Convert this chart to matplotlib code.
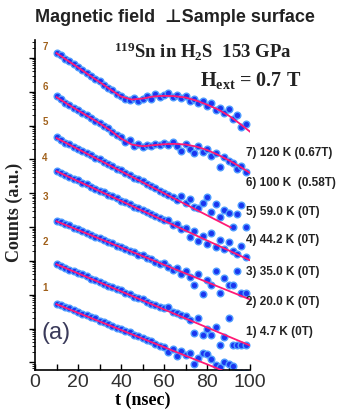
import numpy as np
import matplotlib
matplotlib.use('Agg')
import matplotlib.pyplot as plt
from matplotlib.ticker import LogLocator, NullFormatter, MultipleLocator

plt.rcParams['mathtext.fontset'] = 'custom'
plt.rcParams['mathtext.rm'] = 'Liberation Serif:bold'
plt.rcParams['mathtext.default'] = 'rm'

# time channels (nsec)
t_points = [10, 12, 14, 16, 18, 20, 22, 24, 26, 28, 30, 32, 34, 36, 38,
            40, 42, 44, 46, 48, 50, 52, 54, 56, 58, 60, 62, 64, 66, 68,
            70, 72, 74, 76, 78, 80, 82, 84, 86, 88, 90, 92, 94, 96, 98]

# log10(counts) incl. vertical offsets
s1 = [1.74, 1.70, 1.63, 1.60, 1.55, 1.50, 1.44, 1.41, 1.33, 1.30, 1.23, 1.18, 1.14, 1.08, 1.02,
      0.99, 0.93, 0.90, 0.80, 0.78, 0.72, 0.66, 0.64, 0.55, 0.48, 0.46, 0.30, 0.40, 0.18, 0.35,
      0.22, 0.28, -0.05, 0.12, 0.28, 0.26, 0.10, -0.08, -0.15, 0.00, -0.05, -0.10, -0.3, -0.3, -0.3]
s2 = [2.92, 2.86, 2.80, 2.74, 2.70, 2.64, 2.60, 2.54, 2.47, 2.43, 2.38, 2.33, 2.27, 2.22, 2.17,
      2.13, 2.06, 2.02, 1.94, 1.90, 1.86, 1.78, 1.74, 1.70, 1.64, 1.60, 1.63, 1.50, 1.45, 1.40,
      1.38, 1.25, 0.86, 1.32, 0.80, 1.00, 0.80, 1.04, 0.50, 0.75, 1.30, 0.50, 0.50, 0.50, 0.52]
s3 = [4.19, 4.14, 4.09, 4.05, 3.97, 3.93, 3.87, 3.82, 3.77, 3.70, 3.68, 3.61, 3.55, 3.52, 3.44,
      3.42, 3.35, 3.30, 3.26, 3.18, 3.16, 3.08, 3.05, 2.98, 2.92, 2.95, 2.82, 2.72, 2.78, 2.60,
      2.70, 2.52, 2.30, 2.62, 2.02, 2.45, 2.30, 2.70, 2.05, 2.50, 2.30, 2.30, 2.70, 2.05, 2.05]
s4 = [5.66, 5.60, 5.55, 5.48, 5.43, 5.38, 5.30, 5.26, 5.18, 5.14, 5.08, 5.03, 4.95, 4.92, 4.85,
      4.78, 4.74, 4.68, 4.60, 4.57, 4.50, 4.44, 4.40, 4.32, 4.28, 4.20, 4.22, 4.05, 4.10, 3.95,
      3.98, 3.70, 3.88, 3.60, 3.75, 3.50, 3.82, 3.40, 3.62, 3.35, 3.55, 3.30, 3.20, 3.45, 3.12]
s5 = [6.65, 6.58, 6.50, 6.45, 6.38, 6.32, 6.24, 6.18, 6.12, 6.05, 6.00, 5.92, 5.85, 5.80, 5.72,
      5.68, 5.60, 5.55, 5.45, 5.42, 5.35, 5.28, 5.20, 5.15, 5.08, 5.00, 4.95, 4.88, 4.80, 4.92,
      4.70, 4.82, 4.60, 4.55, 4.70, 4.90, 4.45, 4.68, 4.30, 4.50, 4.42, 4.00, 4.40, 4.65, 4.00]
s6 = [7.86, 7.78, 7.68, 7.61, 7.52, 7.47, 7.38, 7.31, 7.22, 7.15, 7.08, 7.00, 6.92, 6.82, 6.72,
      6.66, 6.52, 6.58, 6.40, 6.45, 6.36, 6.44, 6.40, 6.47, 6.42, 6.48, 6.43, 6.52, 6.40, 6.25,
      6.45, 6.32, 6.18, 6.40, 6.22, 6.30, 6.10, 6.20, 5.78, 6.08, 5.95, 5.90, 5.72, 5.80, 5.62]
s7 = [9.16, 9.08, 8.98, 8.90, 8.82, 8.74, 8.64, 8.56, 8.46, 8.38, 8.32, 8.20, 8.12, 8.04, 7.92,
      7.88, 7.80, 7.76, 7.82, 7.74, 7.80, 7.88, 7.78, 7.92, 7.84, 7.90, 7.96, 7.84, 7.90, 7.82,
      7.88, 7.72, 7.80, 7.68, 7.74, 7.58, 7.66, 7.46, 7.52, 7.36, 7.50, 7.18, 7.30, 6.95, 7.05]
spectra = [s1, s2, s3, s4, s5, s6, s7]

# fitted curves (log10 counts)
fit1_t, fit1_y = [10, 92], [1.72, -0.36]
fit2_t, fit2_y = [10, 100], [2.90, 0.50]
fit3_t, fit3_y = [10, 100], [4.17, 1.86]
fit4_t, fit4_y = [10, 100], [5.65, 3.02]
fit5_t, fit5_y = [10, 91], [6.63, 3.99]
fit6_t = [10, 15, 20, 25, 30, 35, 40, 45, 50, 55, 60, 65, 70, 75, 80, 85, 90, 95, 100]
fit6_y = [7.84, 7.64, 7.45, 7.26, 7.07, 6.86, 6.62, 6.44, 6.39, 6.42, 6.45, 6.46, 6.44, 6.38,
          6.28, 6.14, 5.98, 5.80, 5.60]
fit7_t = [10, 15, 20, 25, 30, 35, 40, 45, 50, 55, 60, 65, 70, 75, 80, 85, 90, 95, 100]
fit7_y = [9.14, 8.93, 8.72, 8.50, 8.29, 8.07, 7.86, 7.77, 7.80, 7.86, 7.88, 7.87, 7.83, 7.74,
          7.62, 7.48, 7.30, 7.07, 6.82]
fits = [(fit1_t, fit1_y), (fit2_t, fit2_y), (fit3_t, fit3_y), (fit4_t, fit4_y),
        (fit5_t, fit5_y), (fit6_t, fit6_y), (fit7_t, fit7_y)]

labels = ['1) 4.7 K (0T)', '2) 20.0 K (0T)', '3) 35.0 K (0T)', '4) 44.2 K (0T)',
          '5) 59.0 K (0T)', '6) 100 K  (0.58T)', '7) 120 K (0.67T)']
numbers = ['1', '2', '3', '4', '5', '6', '7']

W, H = 341, 419


def px(x, y):
    return x / W, 1 - y / H


fig = plt.figure(figsize=(W / 100, H / 100), dpi=100)
ax = fig.add_axes([35 / W, 1 - 369.5 / H, 215 / W, 329.5 / H])

for vals in spectra:
    ax.plot(t_points, 10 ** np.array(vals), 'o', ms=4.8, mfc='#1a36f0', mec='#4f9dff',
            mew=1.0, zorder=2)
for ft, fy in fits:
    ax.plot(ft, 10 ** np.array(fy), color='#ff1a75', lw=1.3, zorder=3)

ax.set_yscale('log')
ax.set_ylim(10 ** -0.21, 10 ** 9.53)
ax.set_xlim(0, 100)
ax.yaxis.set_major_locator(LogLocator(base=10, numticks=20))
ax.yaxis.set_minor_locator(LogLocator(base=10, subs=np.arange(2, 10), numticks=20))
ax.yaxis.set_major_formatter(NullFormatter())
ax.yaxis.set_minor_formatter(NullFormatter())
ax.xaxis.set_major_locator(MultipleLocator(20))
ax.xaxis.set_minor_locator(MultipleLocator(10))
ax.tick_params(axis='y', which='major', direction='out', length=4, width=1)
ax.tick_params(axis='y', which='minor', direction='out', length=2, width=0.6)
ax.tick_params(axis='x', which='both', direction='in', length=4, width=1, pad=3,
               labelsize=14, labelcolor='#303030')
for lab in ax.get_xticklabels():
    lab.set_family('Liberation Sans')
for s in ['top', 'right']:
    ax.spines[s].set_visible(False)
for s in ['left', 'bottom']:
    ax.spines[s].set_linewidth(1.2)

ax.set_xlabel('t (nsec)', family='Liberation Serif', fontweight='bold', fontsize=13,
              labelpad=1)
fig.text(*px(14, 212), 'Counts (a.u.)', family='Liberation Serif', fontweight='bold',
         fontsize=13, rotation=90, ha='center', va='center', color='#222222')

fig.text(*px(175, 17), 'Magnetic field  \u22a5Sample surface',
         family=['Liberation Sans', 'DejaVu Sans'], fontweight='bold', fontsize=13,
         ha='center', va='center', color='#222222')
fig.text(*px(114, 58), r'$^{119}$Sn in H$_2$S  153 GPa', family='Liberation Serif',
         fontweight='bold', fontsize=13.5, va='baseline', color='#222222')
fig.text(*px(200, 86), r'H$_{ext}$ = 0.7 T', family='Liberation Serif',
         fontweight='bold', fontsize=14.5, va='baseline', color='#222222')

label_y = [332, 302, 272, 240, 212, 183, 153]
for lab, y in zip(labels, label_y):
    fig.text(*px(246, y), lab, family='Liberation Sans', fontweight='bold', fontsize=8.5,
             va='center', color='#222222')

number_y = [288, 242, 197, 158, 122, 87, 47]
for n, y in zip(numbers, number_y):
    fig.text(*px(45, y), n, family='Liberation Sans', fontweight='bold', fontsize=7,
             ha='center', va='center', color='#a0601a')

fig.text(*px(56, 333), '(a)', family='Liberation Sans', fontsize=17, ha='center',
         va='center', color='#3a3a5a')

fig.savefig('out.png', dpi=100)
